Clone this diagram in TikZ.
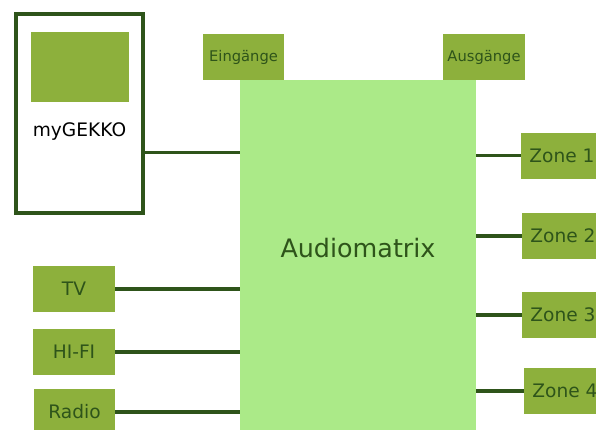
\documentclass[tikz,border=0pt]{standalone}
\usepackage{fontspec}
\setmainfont{DejaVu Sans}
\definecolor{boxgreen}{RGB}{141,176,60}
\definecolor{lightgreen}{RGB}{171,234,136}
\definecolor{darkgreen}{RGB}{46,84,26}

\begin{document}
\begin{tikzpicture}[x=1bp,y=-1bp,
    dev/.style={fill=boxgreen, text=darkgreen, inner sep=0pt,
      minimum width=82bp, minimum height=46bp,
      font=\fontsize{18.6bp}{22bp}\selectfont},
    io/.style={dev, font=\fontsize{14.7bp}{17bp}\selectfont},
    wire/.style={draw=darkgreen, line width=3.2bp}]
  \useasboundingbox (0,0) rectangle (596,429);

  \node[draw=darkgreen, line width=4.2bp, minimum width=127bp, minimum height=199bp,
    label={[yshift=-18.5bp, font=\fontsize{18.6bp}{22bp}\selectfont]center:myGEKKO}] (1) at (79.5,113.5) {};
  \node[fill=boxgreen, inner sep=0pt, minimum width=98bp, minimum height=70bp] (1s) at (80,67) {};

  \node[fill=lightgreen, inner sep=0pt, minimum width=236bp, minimum height=352bp,
    label={[yshift=8bp, text=darkgreen, font=\fontsize{25.4bp}{30bp}\selectfont]center:Audiomatrix}] (3) at (358,256) {};
  \node[io, minimum width=81bp] (2) at (243.5,57) {Eingänge};
  \node[io] (11) at (484,57) {Ausgänge};

  \node[dev] (4) at (74,289) {TV};
  \node[dev] (5) at (74,352) {HI-FI};
  \node[dev, minimum width=81bp] (6) at (74.5,412) {Radio};

  \node[dev] (7) at (562,155.5) {Zone 1};
  \node[dev] (8) at (563,236) {Zone 2};
  \node[dev] (9) at (563,315) {Zone 3};
  \node[dev] (10) at (565,391) {Zone 4};

  \draw[wire] ([yshift=-39bp]1.east) -- ([yshift=-39bp]1.east -| 3.west);
  \draw[wire] (4) -- (4 -| 3.west);
  \draw[wire] (5) -- (5 -| 3.west);
  \draw[wire] (6) -- (6 -| 3.west);
  \draw[wire] (3.east |- 7) -- (7);
  \draw[wire] (3.east |- 8) -- (8);
  \draw[wire] (3.east |- 9) -- (9);
  \draw[wire] (3.east |- 10) -- (10);
\end{tikzpicture}
\end{document}
